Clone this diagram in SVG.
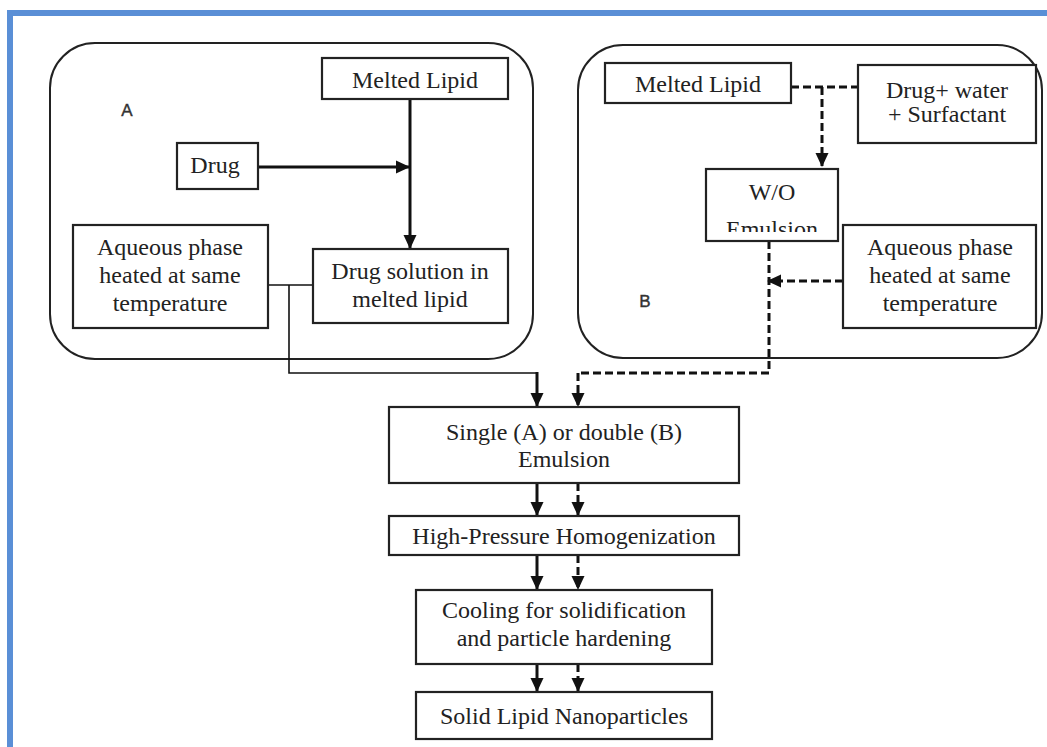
<svg xmlns="http://www.w3.org/2000/svg" width="1047" height="747" viewBox="0 0 1047 747">
<style>
.frame{fill:#5a8fd6}
.group{fill:none;stroke:#222;stroke-width:2}
.box{fill:#fff;stroke:#222;stroke-width:2.2}
.t{font-family:"Liberation Serif","Times New Roman",serif;font-size:24px;fill:#222;text-anchor:middle}
.lbl{font-family:"Liberation Sans",Arial,sans-serif;font-size:17px;fill:#333;text-anchor:middle;stroke:#333;stroke-width:0.4}
.solid{fill:none;stroke:#111;stroke-width:3}
.thin{fill:none;stroke:#111;stroke-width:1.6}
.dash{fill:none;stroke:#111;stroke-width:3;stroke-dasharray:8 4}
</style>
<defs>
<marker id="ah" viewBox="0 0 14 14" markerWidth="14" markerHeight="14" refX="13" refY="7" orient="auto" markerUnits="userSpaceOnUse">
<path d="M0,0.5 L14,7 L0,13.5 Z" fill="#111"/>
</marker>
<clipPath id="woclip"><rect x="706" y="169" width="132" height="63"/></clipPath>
</defs>
<rect width="1047" height="747" fill="#fff"/>
<rect class="frame" x="7" y="10" width="6" height="737"/>
<rect class="frame" x="7" y="10" width="1040" height="6"/>

<g id="groupA">
<rect class="group" x="50" y="43" width="483" height="316" rx="45" ry="45"/>
<text class="lbl" x="127" y="116">A</text>
</g>
<g id="groupB">
<rect class="group" x="578" y="45" width="464" height="313" rx="45" ry="45"/>
<text class="lbl" x="645" y="307">B</text>
</g>

<g id="connectors">
<line class="solid" x1="410" y1="99" x2="410" y2="248" marker-end="url(#ah)"/>
<line class="solid" x1="258" y1="167" x2="409" y2="167" marker-end="url(#ah)"/>
<line class="thin" x1="268" y1="285" x2="313" y2="285"/>
<polyline class="thin" points="289,285 289,373 537,373"/>
<line class="solid" x1="537" y1="372" x2="537" y2="406" marker-end="url(#ah)"/>
<line class="dash" x1="791" y1="87" x2="858" y2="87"/>
<line class="dash" x1="822" y1="87" x2="822" y2="166" marker-end="url(#ah)"/>
<line class="dash" x1="843" y1="281" x2="768" y2="281" marker-end="url(#ah)"/>
<polyline class="dash" points="769,241 769,373 578,373"/>
<line class="dash" x1="578" y1="373" x2="578" y2="406" marker-end="url(#ah)"/>
<line class="solid" x1="537" y1="483" x2="537" y2="515" marker-end="url(#ah)"/>
<line class="dash" x1="578" y1="483" x2="578" y2="515" marker-end="url(#ah)"/>
<line class="solid" x1="537" y1="555" x2="537" y2="589" marker-end="url(#ah)"/>
<line class="dash" x1="578" y1="555" x2="578" y2="589" marker-end="url(#ah)"/>
<line class="solid" x1="537" y1="664" x2="537" y2="691" marker-end="url(#ah)"/>
<line class="dash" x1="578" y1="664" x2="578" y2="691" marker-end="url(#ah)"/>
</g>

<g id="meltedLipidA">
<rect class="box" x="322" y="58" width="186" height="41"/>
<text class="t" x="415" y="88">Melted Lipid</text>
</g>
<g id="drug">
<rect class="box" x="177" y="143" width="81" height="46"/>
<text class="t" x="215" y="173">Drug</text>
</g>
<g id="aqueousA">
<rect class="box" x="73" y="225" width="195" height="103"/>
<text class="t" x="170" y="255">Aqueous phase</text>
<text class="t" x="170" y="283">heated at same</text>
<text class="t" x="170" y="311">temperature</text>
</g>
<g id="drugSolution">
<rect class="box" x="313" y="249" width="195" height="74"/>
<text class="t" x="410" y="279">Drug solution in</text>
<text class="t" x="410" y="307">melted lipid</text>
</g>

<g id="meltedLipidB">
<rect class="box" x="605" y="63" width="186" height="40"/>
<text class="t" x="698" y="92">Melted Lipid</text>
</g>
<g id="drugWater">
<rect class="box" x="858" y="65" width="178" height="78"/>
<text class="t" x="947" y="98">Drug+ water</text>
<text class="t" x="947" y="122">+ Surfactant</text>
</g>
<g id="woEmulsion">
<rect class="box" x="706" y="169" width="132" height="72"/>
<text class="t" x="772" y="200">W/O</text>
<text class="t" x="772" y="237" clip-path="url(#woclip)">Emulsion</text>
</g>
<g id="aqueousB">
<rect class="box" x="843" y="225" width="193" height="103"/>
<text class="t" x="940" y="255">Aqueous phase</text>
<text class="t" x="940" y="283">heated at same</text>
<text class="t" x="940" y="311">temperature</text>
</g>

<g id="emulsion">
<rect class="box" x="389" y="407" width="350" height="76"/>
<text class="t" x="564" y="440">Single (A) or double (B)</text>
<text class="t" x="564" y="467">Emulsion</text>
</g>
<g id="hph">
<rect class="box" x="389" y="516" width="350" height="39"/>
<text class="t" x="564" y="544">High-Pressure Homogenization</text>
</g>
<g id="cooling">
<rect class="box" x="416" y="590" width="296" height="74"/>
<text class="t" x="564" y="618">Cooling for solidification</text>
<text class="t" x="564" y="646">and particle hardening</text>
</g>
<g id="sln">
<rect class="box" x="416" y="692" width="296" height="47"/>
<text class="t" x="564" y="724">Solid Lipid Nanoparticles</text>
</g>
</svg>
